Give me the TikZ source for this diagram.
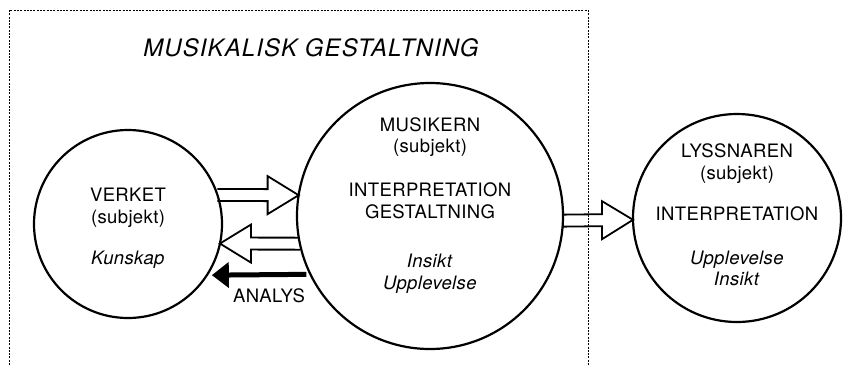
\documentclass[tikz,border=0pt]{standalone}
\usepackage{fontspec}
\setmainfont{TeX Gyre Heros}[LetterSpace=2]
\newfontfamily\titlefont{TeX Gyre Heros}[LetterSpace=4.5]
\usetikzlibrary{positioning, calc, arrows.meta}
\tikzset{
    bigcircle/.style={draw, circle, line width=2.2pt, inner sep=0pt, outer sep=0pt},
    circletext/.style={align=center, font=\fontsize{18.5pt}{21.5pt}\selectfont},
    titletext/.style={font=\titlefont\fontsize{24pt}{28pt}\selectfont\itshape},
    boxline/.style={line width=0.7pt, dash pattern=on 2pt off 1.3pt},
    fatarrow/.style={line width=5pt, -{Triangle[length=17pt, width=25pt]}, shorten >=5pt, shorten <=4pt},
    hollow/.style={line width=1.8pt, line join=miter, to path={
        ($(\tikztostart)+(0pt,6pt)$) -- ($(\tikztotarget)!31pt!(\tikztostart)+(0pt,6pt)$)
        -- ($(\tikztotarget)!31pt!(\tikztostart)+(0pt,19pt)$) -- (\tikztotarget)
        -- ($(\tikztotarget)!31pt!(\tikztostart)-(0pt,19pt)$) -- ($(\tikztotarget)!31pt!(\tikztostart)-(0pt,6pt)$)
        -- ($(\tikztostart)-(0pt,6pt)$)}}
}
\begin{document}
\begin{tikzpicture}[x=1pt, y=-1pt, node distance=75pt]
	\useasboundingbox (0,0) rectangle (845,365);
	\draw[boxline] (9,365) -- (9,10) -- (588,10) -- (588,365);
	\node(Title)[titletext] at (311,48) {MUSIKALISK GESTALTNING};
	\node(Verket)[bigcircle, minimum size=188pt] at (128,224) {};
	\node(Musikern)[bigcircle, minimum size=266pt, right=of Verket, yshift=8pt] {};
	\node(Lyssnaren)[bigcircle, minimum size=208pt, right=70pt of Musikern, yshift=-2pt] {};
	\node(VerketText)[circletext, yshift=-4.5pt] at (Verket.center) {VERKET\\(subjekt)\\[20pt]\textit{Kunskap}};
	\node(MusikernText)[circletext, yshift=10.5pt] at (Musikern.center) {MUSIKERN\\(subjekt)\\[22.5pt]INTERPRETATION\\GESTALTNING\\[28pt]\textit{Insikt}\\\textit{Upplevelse}};
	\node(LyssnarenText)[circletext, yshift=3pt] at (Lyssnaren.center) {LYSSNAREN\\(subjekt)\\[20pt]INTERPRETATION\\[22pt]\textit{Upplevelse}\\\textit{Insikt}};
	\draw[hollow] (Verket.18) to (Musikern.171);
	\draw[hollow] (Musikern.192) to (Verket.348);
	\draw[hollow] (Musikern.358) to (Lyssnaren.181);
	\draw[fatarrow] (Musikern.206) -- node(Analys)[circletext, below=8pt, pos=0.4]{ANALYS} (Verket.327);
\end{tikzpicture}
\end{document}
